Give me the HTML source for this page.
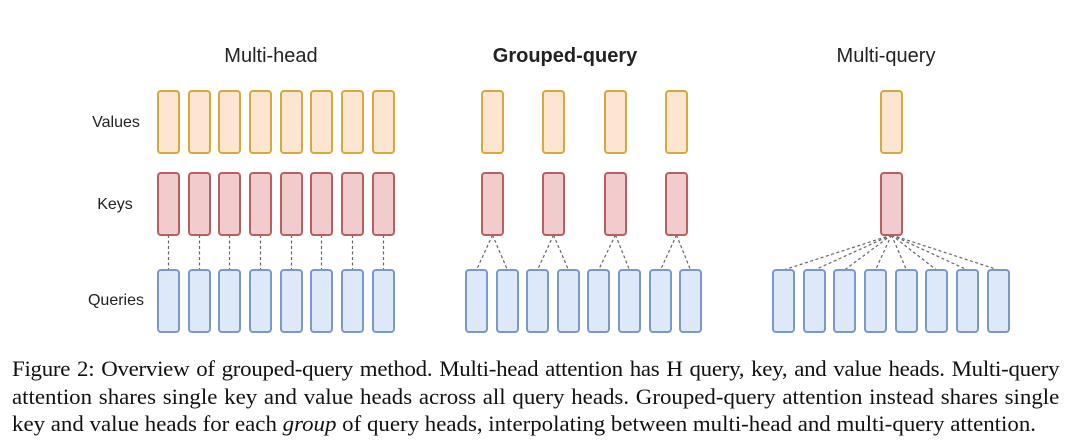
<!DOCTYPE html>
<html><head><meta charset="utf-8"><style>
html,body{margin:0;padding:0;background:#fff;width:1080px;height:447px;overflow:hidden}
svg{position:absolute;left:0;top:0}
.cap{position:absolute;left:12px;width:1007px;transform:scaleX(1.04);transform-origin:0 0;font-family:"Liberation Serif",serif;font-size:22px;line-height:27.5px;top:355px;color:#111}
.cap div{text-align:justify;text-align-last:justify;white-space:nowrap}
</style></head><body>
<svg width="1080" height="447" xmlns="http://www.w3.org/2000/svg">
<defs>
<rect id="v" width="21" height="62" rx="3" fill="#fce6d1" stroke="#d6a93c" stroke-width="2"/>
<rect id="k" width="21" height="62" rx="3" fill="#f2cccc" stroke="#b8605f" stroke-width="2"/>
<rect id="q" width="21" height="62" rx="3" fill="#dde8f8" stroke="#7a98cc" stroke-width="2"/>
</defs>
<g font-family="Liberation Sans, sans-serif" fill="#222">
<text x="271" y="62" font-size="20" text-anchor="middle">Multi-head</text>
<text x="565" y="62" font-size="20" text-anchor="middle" font-weight="bold">Grouped-query</text>
<text x="886" y="62" font-size="20" text-anchor="middle">Multi-query</text>
<text x="116" y="127" font-size="16" text-anchor="middle">Values</text>
<text x="115" y="209" font-size="16" text-anchor="middle">Keys</text>
<text x="116" y="305" font-size="16" text-anchor="middle">Queries</text>
</g>
<g stroke="#666" stroke-width="1.2" stroke-dasharray="3,2.5">
<line x1="168.5" y1="235" x2="168.5" y2="270"/><line x1="199.5" y1="235" x2="199.5" y2="270"/>
<line x1="229.5" y1="235" x2="229.5" y2="270"/><line x1="260.5" y1="235" x2="260.5" y2="270"/>
<line x1="291.5" y1="235" x2="291.5" y2="270"/><line x1="321.5" y1="235" x2="321.5" y2="270"/>
<line x1="352.5" y1="235" x2="352.5" y2="270"/><line x1="383.5" y1="235" x2="383.5" y2="270"/>
<line x1="492.5" y1="235" x2="476.5" y2="270"/><line x1="492.5" y1="235" x2="507.5" y2="270"/>
<line x1="553.5" y1="235" x2="537.5" y2="270"/><line x1="553.5" y1="235" x2="568.5" y2="270"/>
<line x1="615.5" y1="235" x2="598.5" y2="270"/><line x1="615.5" y1="235" x2="629.5" y2="270"/>
<line x1="676.5" y1="235" x2="660.5" y2="270"/><line x1="676.5" y1="235" x2="690.5" y2="270"/>
<line x1="891.5" y1="235" x2="783.5" y2="270"/><line x1="891.5" y1="235" x2="814.5" y2="270"/>
<line x1="891.5" y1="235" x2="844.5" y2="270"/><line x1="891.5" y1="235" x2="875.5" y2="270"/>
<line x1="891.5" y1="235" x2="906.5" y2="270"/><line x1="891.5" y1="235" x2="936.5" y2="270"/>
<line x1="891.5" y1="235" x2="967.5" y2="270"/><line x1="891.5" y1="235" x2="998.5" y2="270"/>
</g>
<use href="#v" x="158" y="91"/><use href="#v" x="189" y="91"/><use href="#v" x="219" y="91"/><use href="#v" x="250" y="91"/>
<use href="#v" x="281" y="91"/><use href="#v" x="311" y="91"/><use href="#v" x="342" y="91"/><use href="#v" x="373" y="91"/>
<use href="#k" x="158" y="173"/><use href="#k" x="189" y="173"/><use href="#k" x="219" y="173"/><use href="#k" x="250" y="173"/>
<use href="#k" x="281" y="173"/><use href="#k" x="311" y="173"/><use href="#k" x="342" y="173"/><use href="#k" x="373" y="173"/>
<use href="#q" x="158" y="270"/><use href="#q" x="189" y="270"/><use href="#q" x="219" y="270"/><use href="#q" x="250" y="270"/>
<use href="#q" x="281" y="270"/><use href="#q" x="311" y="270"/><use href="#q" x="342" y="270"/><use href="#q" x="373" y="270"/>
<use href="#v" x="482" y="91"/><use href="#v" x="543" y="91"/><use href="#v" x="605" y="91"/><use href="#v" x="666" y="91"/>
<use href="#k" x="482" y="173"/><use href="#k" x="543" y="173"/><use href="#k" x="605" y="173"/><use href="#k" x="666" y="173"/>
<use href="#q" x="466" y="270"/><use href="#q" x="497" y="270"/><use href="#q" x="527" y="270"/><use href="#q" x="558" y="270"/>
<use href="#q" x="588" y="270"/><use href="#q" x="619" y="270"/><use href="#q" x="650" y="270"/><use href="#q" x="680" y="270"/>
<use href="#v" x="881" y="91"/>
<use href="#k" x="881" y="173"/>
<use href="#q" x="773" y="270"/><use href="#q" x="804" y="270"/><use href="#q" x="834" y="270"/><use href="#q" x="865" y="270"/>
<use href="#q" x="896" y="270"/><use href="#q" x="926" y="270"/><use href="#q" x="957" y="270"/><use href="#q" x="988" y="270"/>
</svg>
<div class="cap">
<div style="letter-spacing:-0.25px">Figure 2: Overview of grouped-query method. Multi-head attention has H query, key, and value heads. Multi-query</div>
<div>attention shares single key and value heads across all query heads. Grouped-query attention instead shares single</div>
<div style="text-align-last:left">key and value heads for each <i>group</i> of query heads, interpolating between multi-head and multi-query attention.</div>
</div>
</body></html>
